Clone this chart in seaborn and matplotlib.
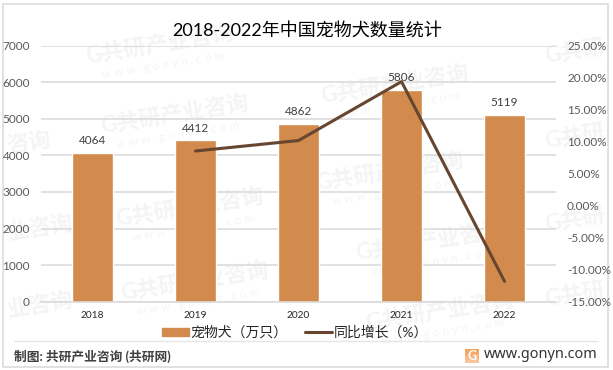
import numpy as np
import pandas as pd
import matplotlib
matplotlib.use('Agg')
import matplotlib.pyplot as plt
from matplotlib.lines import Line2D
from matplotlib.patches import Patch, Rectangle
import seaborn as sns

# Chart data
years = ['2018', '2019', '2020', '2021', '2022']
dogs = [4064, 4412, 4862, 5806, 5119]
growth = [np.nan, 8.56, 10.2, 19.42, -11.83]
left_ticks = [0, 1000, 2000, 3000, 4000, 5000, 6000, 7000]
right_ticks = [-15, -10, -5, 0, 5, 10, 15, 20, 25]

bar_color = '#D28B4D'
line_color = '#664630'

sns.set_theme(style='white')
plt.rcParams['font.family'] = ['Lato', 'Noto Sans CJK SC', 'DejaVu Sans']

W, H = 613, 370
fig = plt.figure(figsize=(W / 100, H / 100), dpi=100, facecolor='white')
ax = fig.add_axes([41 / W, 1 - 301.5 / H, 515 / W, 255.5 / H])
ax.set_zorder(2)
ax.patch.set_alpha(0)

df = pd.DataFrame({'year': years, 'dogs': dogs, 'growth': growth})

# Bars
sns.barplot(data=df, x='year', y='dogs', color=bar_color, saturation=1, width=0.4, ax=ax, zorder=2)
ax.set_xlim(-0.5, 4.5)
ax.set_ylim(0, 7000)
ax.set_yticks(left_ticks)
ax.set_xlabel('')
ax.set_ylabel('')
ax.grid(axis='y', color='#D9D9D9', lw=1.1, zorder=0)
ax.set_axisbelow(True)
ax.tick_params(axis='y', length=0, labelsize=8.5, labelcolor='#595959', pad=8)
ax.tick_params(axis='x', length=0, labelsize=7.3, labelcolor='#262626', pad=6.5)
for s in ['top', 'left', 'right']:
    ax.spines[s].set_visible(False)
ax.spines['bottom'].set_color('#D9D9D9')
ax.spines['bottom'].set_linewidth(1.1)

for i, v in enumerate(dogs):
    ax.annotate(str(v), (i, v), xytext=(0, 5), textcoords='offset points', ha='center', va='bottom',
                fontsize=8.5, color='#404040', zorder=5)

# Growth line on the right axis
ax2 = ax.twinx()
ax2.set_zorder(3)
ax2.patch.set_alpha(0)
sns.lineplot(x=np.arange(len(years)), y=growth, color=line_color, lw=2.2, ax=ax2)
ax2.set_ylim(-15, 25)
ax2.set_yticks(right_ticks)
ax2.set_yticklabels([f'{t:.2f}%' for t in right_ticks])
ax2.tick_params(axis='y', length=0, labelsize=8.5, labelcolor='#595959', pad=8)
ax2.grid(False)
for s in ax2.spines.values():
    s.set_visible(False)

# Title
fig.text(307 / W, 1 - 30 / H, '2018-2022年中国宠物犬数量统计', ha='center', va='center', fontsize=13, color='black')

# Legend
handles = [Patch(color=bar_color, label='宠物犬（万只）'),
           Line2D([0], [0], color=line_color, lw=2.2, label='同比增长（%）')]
fig.legend(handles=handles, loc='center', bbox_to_anchor=(295 / W, 1 - 332 / H), ncol=2, frameon=False,
           fontsize=10, handlelength=1.9, handleheight=0.55, columnspacing=1.3, handletextpad=0.12,
           labelcolor='#262626')

# Footer
fig.add_artist(Line2D([14 / W, 598 / W], [1 - 340.5 / H] * 2, color='#E6E6E6', lw=1))
fig.text(14 / W, 1 - 356 / H, '制图: 共研产业咨询 (共研网)', ha='left', va='center', fontsize=9.2,
         color='#404040', fontweight='bold')
fig.text(598 / W, 1 - 355 / H, 'www.gonyn.com', ha='right', va='center', fontsize=10.4, color='#333333',
         family=['Noto Sans', 'DejaVu Sans'])

# Logo with a soft orange gradient
logo = fig.add_axes([465 / W, 1 - 363 / H, 14 / W, 14 / H])
logo.imshow(np.linspace(0, 1, 32).reshape(-1, 1), cmap=sns.blend_palette(['#F4A05A', '#F9C9A0'], as_cmap=True),
            aspect='auto')
logo.axis('off')
logo.text(0.5, 0.48, 'G', transform=logo.transAxes, ha='center', va='center', fontsize=9, color='white',
          fontweight='bold')

# Outer border
fig.add_artist(Rectangle((3 / W, 1 - 366.5 / H), 605 / W, 363 / H, fill=False, ec='#D9D9D9', lw=1.1,
                         transform=fig.transFigure))

# Watermarks (the ones at the picture edge only show the part that fits)
marks = [(160, 45, 'G共研产业咨询'), (175, 115, 'G共研产业咨询'), (29, 143, '咨询'), (395, 85, 'G共研产业咨询'),
         (575, 52, 'G共研'), (575, 137, 'G共研'), (390, 172, 'G共研产业咨询'), (190, 208, 'G共研产业咨询'),
         (40, 228, '业咨询'), (195, 282, 'G共研产业咨询'), (40, 305, '业咨询'), (430, 242, 'G共研产业咨询'),
         (575, 220, 'G共研'), (575, 295, 'G共研'), (440, 312, 'G共研产业咨询')]
for mx, my, label in marks:
    fig.text(mx / W, 1 - my / H, label, ha='center', va='center', fontsize=16, rotation=9,
             color='#888888', alpha=0.09, fontweight='bold', zorder=-1)
    if label.startswith('G') and len(label) > 4:
        fig.text((mx + 3) / W, 1 - (my + 20) / H, 'w w w . g o n y n . c o m', ha='center', va='center',
                 fontsize=8.5, rotation=9, color='#888888', alpha=0.09, zorder=-1)

fig.savefig('out.png', dpi=100)
